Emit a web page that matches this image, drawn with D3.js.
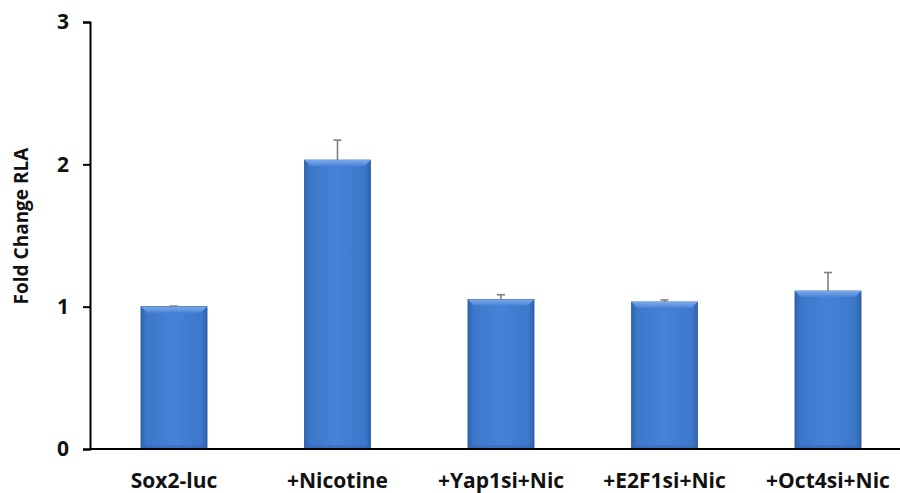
<!DOCTYPE html>
<html>
<head>
<meta charset="utf-8">
<script src="https://cdn.jsdelivr.net/npm/d3@7"></script>
<style>
  html, body { margin: 0; padding: 0; background: #fff; }
  svg { display: block; }
  text { font-family: "Open Sans", "Liberation Sans", sans-serif; font-weight: bold; fill: #111; }
</style>
</head>
<body>
<svg id="chart" width="900" height="493"></svg>
<script>
const categories = ["Sox2-luc", "+Nicotine", "+Yap1si+Nic", "+E2F1si+Nic", "+Oct4si+Nic"];
const values = [1.00, 2.03, 1.05, 1.033, 1.11];
const errors = [0.004, 0.14, 0.034, 0.014, 0.13];
const yTicks = [0, 1, 2, 3];
const yLabel = "Fold Change RLA";

const svg = d3.select("#chart");
const x = d3.scaleBand().domain(categories).range([92.25, 909.75]).paddingInner(0.596).paddingOuter(0.298);
const y = d3.scaleLinear().domain([0, 3]).range([449, 22]);

const defs = svg.append("defs");
const gH = defs.append("linearGradient").attr("id", "gh").attr("x1", 0).attr("x2", 1).attr("y1", 0).attr("y2", 0);
gH.append("stop").attr("offset", "0").attr("stop-color", "#2f62ad");
gH.append("stop").attr("offset", "0.08").attr("stop-color", "#3d77ca");
gH.append("stop").attr("offset", "0.5").attr("stop-color", "#4682d6");
gH.append("stop").attr("offset", "0.92").attr("stop-color", "#3d77ca");
gH.append("stop").attr("offset", "1").attr("stop-color", "#2f62ad");
const gT = defs.append("linearGradient").attr("id", "gt").attr("x1", 0).attr("x2", 0).attr("y1", 0).attr("y2", 1);
gT.append("stop").attr("offset", "0").attr("stop-color", "#7aa9ec");
gT.append("stop").attr("offset", "1").attr("stop-color", "#4a85d8");

// bars
const bars = svg.append("g");
categories.forEach((c, i) => {
  const x0 = x(c), w = x.bandwidth(), yt = y(values[i]), yb = y(0);
  bars.append("rect").attr("x", x0).attr("y", yt).attr("width", w).attr("height", yb - yt)
    .attr("fill", "url(#gh)").attr("stroke", "#2a5a9e").attr("stroke-width", 0.8);
  const b = 6;
  bars.append("path")
    .attr("d", `M${x0},${yt} L${x0 + w},${yt} L${x0 + w - b},${yt + b} L${x0 + b},${yt + b} Z`)
    .attr("fill", "url(#gt)");
  const bb = 4;
  bars.append("path")
    .attr("d", `M${x0},${yb} L${x0 + w},${yb} L${x0 + w - bb},${yb - bb} L${x0 + bb},${yb - bb} Z`)
    .attr("fill", "#2d5fa8").attr("opacity", 0.35);
});

// error bars
const eb = svg.append("g").attr("stroke", "#7f7f7f").attr("stroke-width", 1.6);
categories.forEach((c, i) => {
  const cx = x(c) + x.bandwidth() / 2;
  eb.append("line").attr("x1", cx).attr("x2", cx).attr("y1", y(values[i])).attr("y2", y(values[i] + errors[i]));
  eb.append("line").attr("x1", cx - 4).attr("x2", cx + 4).attr("y1", y(values[i] + errors[i])).attr("y2", y(values[i] + errors[i]));
});

// y axis
const yAxis = d3.axisLeft(y).tickValues(yTicks).tickFormat(d3.format("d")).tickSize(7).tickPadding(14);
const ya = svg.append("g").attr("transform", "translate(90,0)").call(yAxis);
ya.select(".domain").attr("stroke", "#000").attr("stroke-width", 2);
ya.selectAll(".tick line").attr("stroke", "#000").attr("stroke-width", 2);
ya.selectAll(".tick text").attr("font-size", 21).attr("fill", "#111")
  .attr("font-family", "'Open Sans', sans-serif").attr("font-weight", "bold");

// x axis
const xAxis = d3.axisBottom(x).tickSize(0).tickPadding(24);
const xa = svg.append("g").attr("transform", "translate(0,449)").call(xAxis);
xa.select(".domain").remove();
xa.append("line").attr("x1", 89).attr("x2", 900).attr("y1", 0).attr("y2", 0).attr("stroke", "#000").attr("stroke-width", 2);
xa.selectAll(".tick text").attr("font-size", 21).attr("fill", "#111")
  .attr("font-family", "'Open Sans', sans-serif").attr("font-weight", "bold");

// y label
svg.append("text").attr("transform", "translate(28,226) rotate(-90)")
  .attr("text-anchor", "middle").attr("font-size", 19).text(yLabel);
</script>
</body>
</html>
